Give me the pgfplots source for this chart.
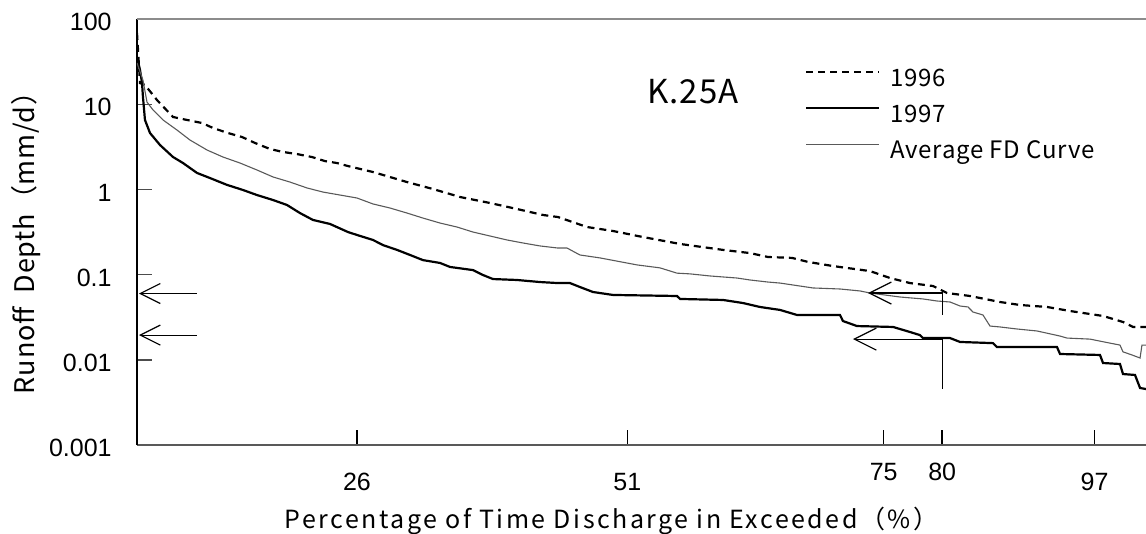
\documentclass[border=0pt]{standalone}
\usepackage{fontspec}
\setmainfont{Liberation Sans}
\newfontfamily\jp{Noto Sans CJK JP}[LetterSpace=3]
\newfontfamily\jpw{Noto Sans CJK JP}[LetterSpace=10]
\usepackage{pgfplots}
\pgfplotsset{compat=1.18}
\usetikzlibrary{arrows.meta}

\begin{document}
\begin{tikzpicture}
\begin{axis}[
  width=504.5pt, height=213pt, scale only axis,
  xmin=0, xmax=100,
  ymode=log, ymin=0.001, ymax=100,
  clip mode=individual,
  axis lines*=left,
  x axis line style={black!65, line width=0.9pt},
  y axis line style={black, line width=0.8pt},
  tick align=inside, tick pos=left,
  /pgf/number format/assume math mode=true,
  xtick={21.8,48.6,74.0,79.8,94.9},
  xticklabels={26,51,\raisebox{5pt}{75},\raisebox{5pt}{80},97},
  x tick style={black, line width=0.8pt},
  xticklabel style={font=\fontsize{12.5}{14}\selectfont, anchor=base, inner sep=0pt, yshift=-22.5pt},
  ytick={0.001,0.01,0.1,1,10,100},
  yticklabels={0.001,0.01,0.1,1,10,100},
  y tick style={black!70, line width=0.7pt},
  yticklabel style={font=\fontsize{12.5}{14}\selectfont, anchor=east, inner sep=0pt, xshift=-12.5pt, yshift=-1.5pt},
  minor y tick num=0,
  minor tick style={draw=none},
  major tick length=7.5pt,
  legend cell align=left,
  legend style={draw=none, fill=none, at={(rel axis cs:0.662,0.883)}, anchor=north west,
    inner sep=0pt, row sep=7pt, column sep=5pt,
    nodes={inner sep=0pt, text height=8.5pt, text depth=2.5pt, font=\jp\fontsize{12}{14}\selectfont}},
  legend image code/.code={\draw[#1] (0pt,4pt) -- (36.5pt,4pt);},
]
\addplot[black, line width=1.1pt, dash pattern=on 3.5pt off 2.5pt] coordinates {
(0,68.5) (0.3,17.7) (0.79,16.8) (1.98,11.2) (3.57,7.08) (4.96,6.53) (6.44,6.02)
(7.53,5.26) (9.02,4.59) (10.41,4.12) (11.69,3.51) (13.18,2.98) (14.47,2.75)
(15.86,2.60) (17.34,2.40) (18.63,2.15) (19.82,2.04) (20.91,1.88) (23.39,1.60)
(26.76,1.22) (29.34,1.01) (32.01,0.815) (34.98,0.693) (37.66,0.589) (40.24,0.501)
(41.72,0.474) (44.60,0.362) (47.18,0.325) (50.15,0.276) (53.82,0.229) (58.08,0.195)
(60.75,0.179) (62.54,0.161) (64.92,0.157) (66.50,0.141) (68.98,0.126) (72.65,0.110)
(74.63,0.0912) (76.61,0.0796) (78.89,0.0735) (80.28,0.0608) (82.56,0.0561)
(85.53,0.0477) (87.51,0.0440) (90.19,0.0417) (92.47,0.0374) (95.74,0.0327)
(97.72,0.0278) (98.71,0.0243) (100,0.0243)
};
\addlegendentry{1996}
\addplot[black, line width=1.1pt] coordinates {
(0,35.8) (0.30,25.2) (0.50,17.7) (0.59,12.2) (0.79,6.53) (1.29,4.59) (2.28,3.32)
(3.57,2.40) (4.56,2.04) (5.95,1.56) (7.23,1.36) (8.92,1.13) (10.51,0.984)
(11.89,0.859) (13.48,0.751) (14.87,0.656) (16.15,0.528) (17.44,0.438) (19.13,0.393)
(20.91,0.316) (21.80,0.292) (23.39,0.255) (24.38,0.222) (25.77,0.195) (27.06,0.170)
(28.34,0.148) (30.03,0.137) (31.02,0.123) (33.30,0.113) (34.29,0.0989) (35.28,0.0887)
(37.66,0.0865) (39.94,0.0818) (41.72,0.0796) (42.91,0.0796) (43.90,0.0715)
(45.19,0.0625) (47.18,0.0577) (53.52,0.0561) (53.82,0.0518) (58.08,0.0504)
(60.06,0.0464) (61.74,0.0417) (63.73,0.0385) (65.41,0.0336) (69.67,0.0336)
(69.97,0.0285) (71.36,0.0249) (74.93,0.0243) (76.61,0.0212) (77.60,0.0195)
(77.90,0.0180) (80.58,0.0180) (81.57,0.0162) (84.84,0.0157) (85.23,0.0141)
(91.18,0.0141) (91.48,0.0117) (95.44,0.0114) (95.74,0.00917) (97.42,0.00893)
(97.72,0.00681) (98.91,0.00664) (99.41,0.00467) (100,0.00454)
};
\addlegendentry{1997}
\addplot[black!65, line width=0.55pt] coordinates {
(0,30.5) (0.59,19.2) (0.99,10.6) (1.59,8.55) (2.58,6.53) (3.96,4.98) (5.25,3.80)
(6.94,2.90) (8.52,2.40) (10.21,2.04) (11.89,1.69) (13.48,1.40) (15.16,1.22)
(16.85,1.04) (18.43,0.931) (20.12,0.859) (21.80,0.793) (23.39,0.675) (25.07,0.605)
(26.76,0.528) (28.34,0.461) (30.03,0.403) (31.71,0.362) (33.30,0.316) (34.98,0.284)
(36.67,0.255) (38.26,0.235) (39.94,0.217) (41.72,0.205) (42.62,0.205) (43.90,0.170)
(45.89,0.157) (47.57,0.144) (49.55,0.130) (51.83,0.120) (53.52,0.104) (54.81,0.102)
(56.79,0.0964) (59.46,0.0912) (60.75,0.0865) (62.54,0.0818) (63.73,0.0796)
(67.00,0.0697) (69.67,0.0678) (71.66,0.0643) (72.65,0.0608) (75.62,0.0546)
(77.90,0.0518) (79.29,0.0490) (80.58,0.0477) (81.57,0.0428) (82.36,0.0417)
(82.85,0.0364) (83.84,0.0336) (84.54,0.0249) (85.53,0.0243) (87.21,0.0230)
(89.20,0.0218) (91.48,0.0190) (92.17,0.0180) (94.45,0.0175) (96.43,0.0157)
(97.42,0.0149) (97.72,0.0124) (98.61,0.0114) (99.41,0.0105) (99.60,0.0149) (100,0.0149)
};
\addlegendentry{Average FD Curve}

% frame top line and reference points for the bounding box
\draw[black!45, line width=0.8pt] (rel axis cs:0,1) -- (rel axis cs:1,1);
\coordinate (sw) at (rel axis cs:0,0);
\coordinate (ne) at (rel axis cs:1,1);

% arrows
\draw[line width=0.6pt, {Straight Barb[length=10pt,width=10pt]}-] (axis cs:0.2,0.06) -- (axis cs:5.95,0.06);
\draw[line width=0.6pt, {Straight Barb[length=10pt,width=10pt]}-] (axis cs:0.2,0.0195) -- (axis cs:5.95,0.0195);
\draw[line width=0.6pt, {Straight Barb[length=11pt,width=11pt]}-] (axis cs:72.45,0.0608) -- (axis cs:79.8,0.0608) -- (axis cs:79.8,0.0336);
\draw[line width=0.6pt, {Straight Barb[length=11pt,width=11pt]}-] (axis cs:70.96,0.0175) -- (axis cs:79.8,0.0175) -- (axis cs:79.8,0.00454);

\node[font=\jp\fontsize{16.5}{18}\selectfont] at (rel axis cs:0.551,0.829) {K.25A};
\node[anchor=base, font=\jpw\fontsize{12.5}{14}\selectfont] at ([xshift=-15pt,yshift=-41.5pt]rel axis cs:0.5,0) {Percentage of Time Discharge in Exceeded（\%）};
\node[anchor=base, rotate=90, font=\jp\fontsize{13.5}{15}\selectfont] at ([xshift=-51pt]rel axis cs:0,0.49) {Runoff\ \ Depth（mm/d）};
\end{axis}
\pgfresetboundingbox
\path ([shift={(-68.5pt,-44pt)}]sw) rectangle ([shift={(0pt,9.5pt)}]ne);
\end{tikzpicture}
\end{document}
